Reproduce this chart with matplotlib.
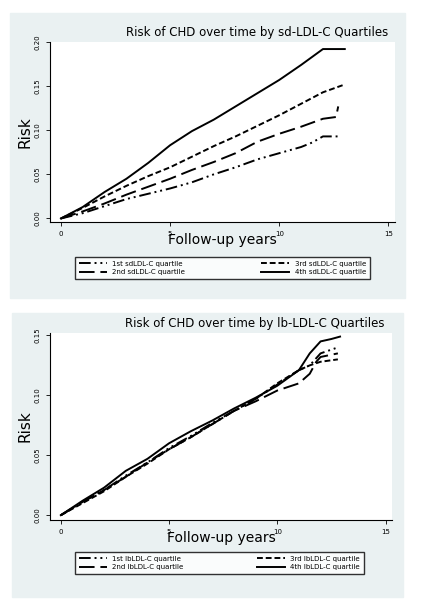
import matplotlib
matplotlib.use("Agg")
import matplotlib.pyplot as plt
from matplotlib.patches import Rectangle

W, H = 422, 604
sd_x = {
 "Q1": [0, 1, 2, 3, 4, 5, 6, 7, 8, 9, 10, 11, 11.5, 12, 12.7],
 "Q2": [0, 1, 2, 3, 4, 5, 6, 7, 8, 9, 10, 11, 12, 12.6, 12.7],
 "Q3": [0, 1, 2, 3, 4, 5, 6, 7, 8, 9, 10, 11, 12, 12.9],
 "Q4": [0, 1, 2, 3, 4, 5, 6, 7, 8, 9, 10, 11, 11.5, 12, 13],
}
sd_y = {
 "Q1": [0, .006, .014, .022, .028, .034, .041, .050, .058, .067, .074, .081, .086, .093, .093],
 "Q2": [0, .008, .017, .027, .036, .045, .055, .064, .074, .087, .096, .104, .113, .115, .127],
 "Q3": [0, .012, .025, .037, .048, .058, .070, .082, .093, .105, .117, .130, .143, .151],
 "Q4": [0, .013, .030, .045, .063, .083, .099, .112, .127, .142, .157, .174, .183, .192, .192],
}
lb_x = {
 "Q1": [0, 1, 2, 3, 4, 5, 6, 7, 8, 9, 10, 11, 11.5, 12, 12.8],
 "Q2": [0, 1, 2, 3, 4, 5, 6, 7, 8, 9, 10, 11, 11.5, 11.8, 12, 12.8],
 "Q3": [0, 1, 2, 3, 4, 5, 6, 7, 8, 9, 10, 11, 11.5, 12, 12.8],
 "Q4": [0, 1, 2, 3, 4, 5, 6, 7, 8, 9, 10, 11, 11.5, 12, 12.5, 12.9],
}
lb_y = {
 "Q1": [0, .011, .021, .033, .044, .056, .066, .077, .087, .097, .109, .121, .125, .135, .140],
 "Q2": [0, .011, .021, .032, .044, .055, .065, .076, .087, .095, .104, .110, .118, .128, .132, .135],
 "Q3": [0, .010, .020, .032, .043, .055, .065, .076, .087, .097, .110, .121, .125, .128, .130],
 "Q4": [0, .012, .023, .037, .047, .060, .070, .079, .089, .098, .108, .121, .135, .145, .147, .149],
}
sd_labels = ["1st sdLDL-C quartile", "2nd sdLDL-C quartile", "3rd sdLDL-C quartile", "4th sdLDL-C quartile"]
lb_labels = ["1st lbLDL-C quartile", "2nd lbLDL-C quartile", "3rd lbLDL-C quartile", "4th lbLDL-C quartile"]
styles = {"Q1": (0, (6, 2, 1, 2, 1, 2)), "Q2": (0, (8, 3)), "Q3": (0, (3, 1.5)), "Q4": "-"}

fig = plt.figure(figsize=(W/100, H/100), dpi=100)
bg = "#eaf1f2"
def fr(x0, y0, x1, y1):
    return [x0/W, 1-y1/H, (x1-x0)/W, (y1-y0)/H]
for (x0, y0, x1, y1) in [(10, 13, 405, 298), (12, 313, 403, 597)]:
    b = fr(x0, y0, x1, y1)
    fig.patches.append(Rectangle((b[0], b[1]), b[2], b[3], transform=fig.transFigure, color=bg, zorder=-5))

def panel(box, xs, ys, labels, title, ymax, yticks, legbox):
    ax = fig.add_axes(fr(*box))
    ax.set_zorder(2)
    for k, lab in zip(["Q1", "Q2", "Q3", "Q4"], labels):
        ax.plot(xs[k], ys[k], color="black", lw=1.4, ls=styles[k], label=lab)
    ax.set_xlim(-0.5, 15.3)
    ax.set_ylim(-0.004, ymax)
    ax.set_xticks([0, 5, 10, 15])
    ax.set_yticks(yticks)
    ax.set_yticklabels([f"{t:.2f}" for t in yticks], rotation=90, va="center")
    ax.tick_params(labelsize=5, length=3, width=0.6)
    for s in ["top", "right"]:
        ax.spines[s].set_visible(False)
    ax.set_xlabel("Follow-up years", fontsize=10, labelpad=-3)
    ax.set_ylabel("Risk", fontsize=11, labelpad=2)
    ax.set_title(title, fontsize=8.5, x=0.6, pad=4)
    lb = fr(*legbox)
    ax.legend(loc="center", bbox_to_anchor=(lb[0], lb[1], lb[2], lb[3]), bbox_transform=fig.transFigure,
              mode="expand", ncol=2, fontsize=5, frameon=True, fancybox=False, edgecolor="black",
              handlelength=4, columnspacing=1, borderpad=0.5, labelspacing=0.4)

panel((50, 42, 395, 222), sd_x, sd_y, sd_labels, "Risk of CHD over time by sd-LDL-C Quartiles",
      0.2, [0, .05, .10, .15, .20], (72, 253, 373, 283))
panel((50, 333, 392, 520), lb_x, lb_y, lb_labels, "Risk of CHD over time by lb-LDL-C Quartiles",
      0.152, [0, .05, .10, .15], (72, 548, 367, 578))
fig.savefig("out.png", dpi=100)
